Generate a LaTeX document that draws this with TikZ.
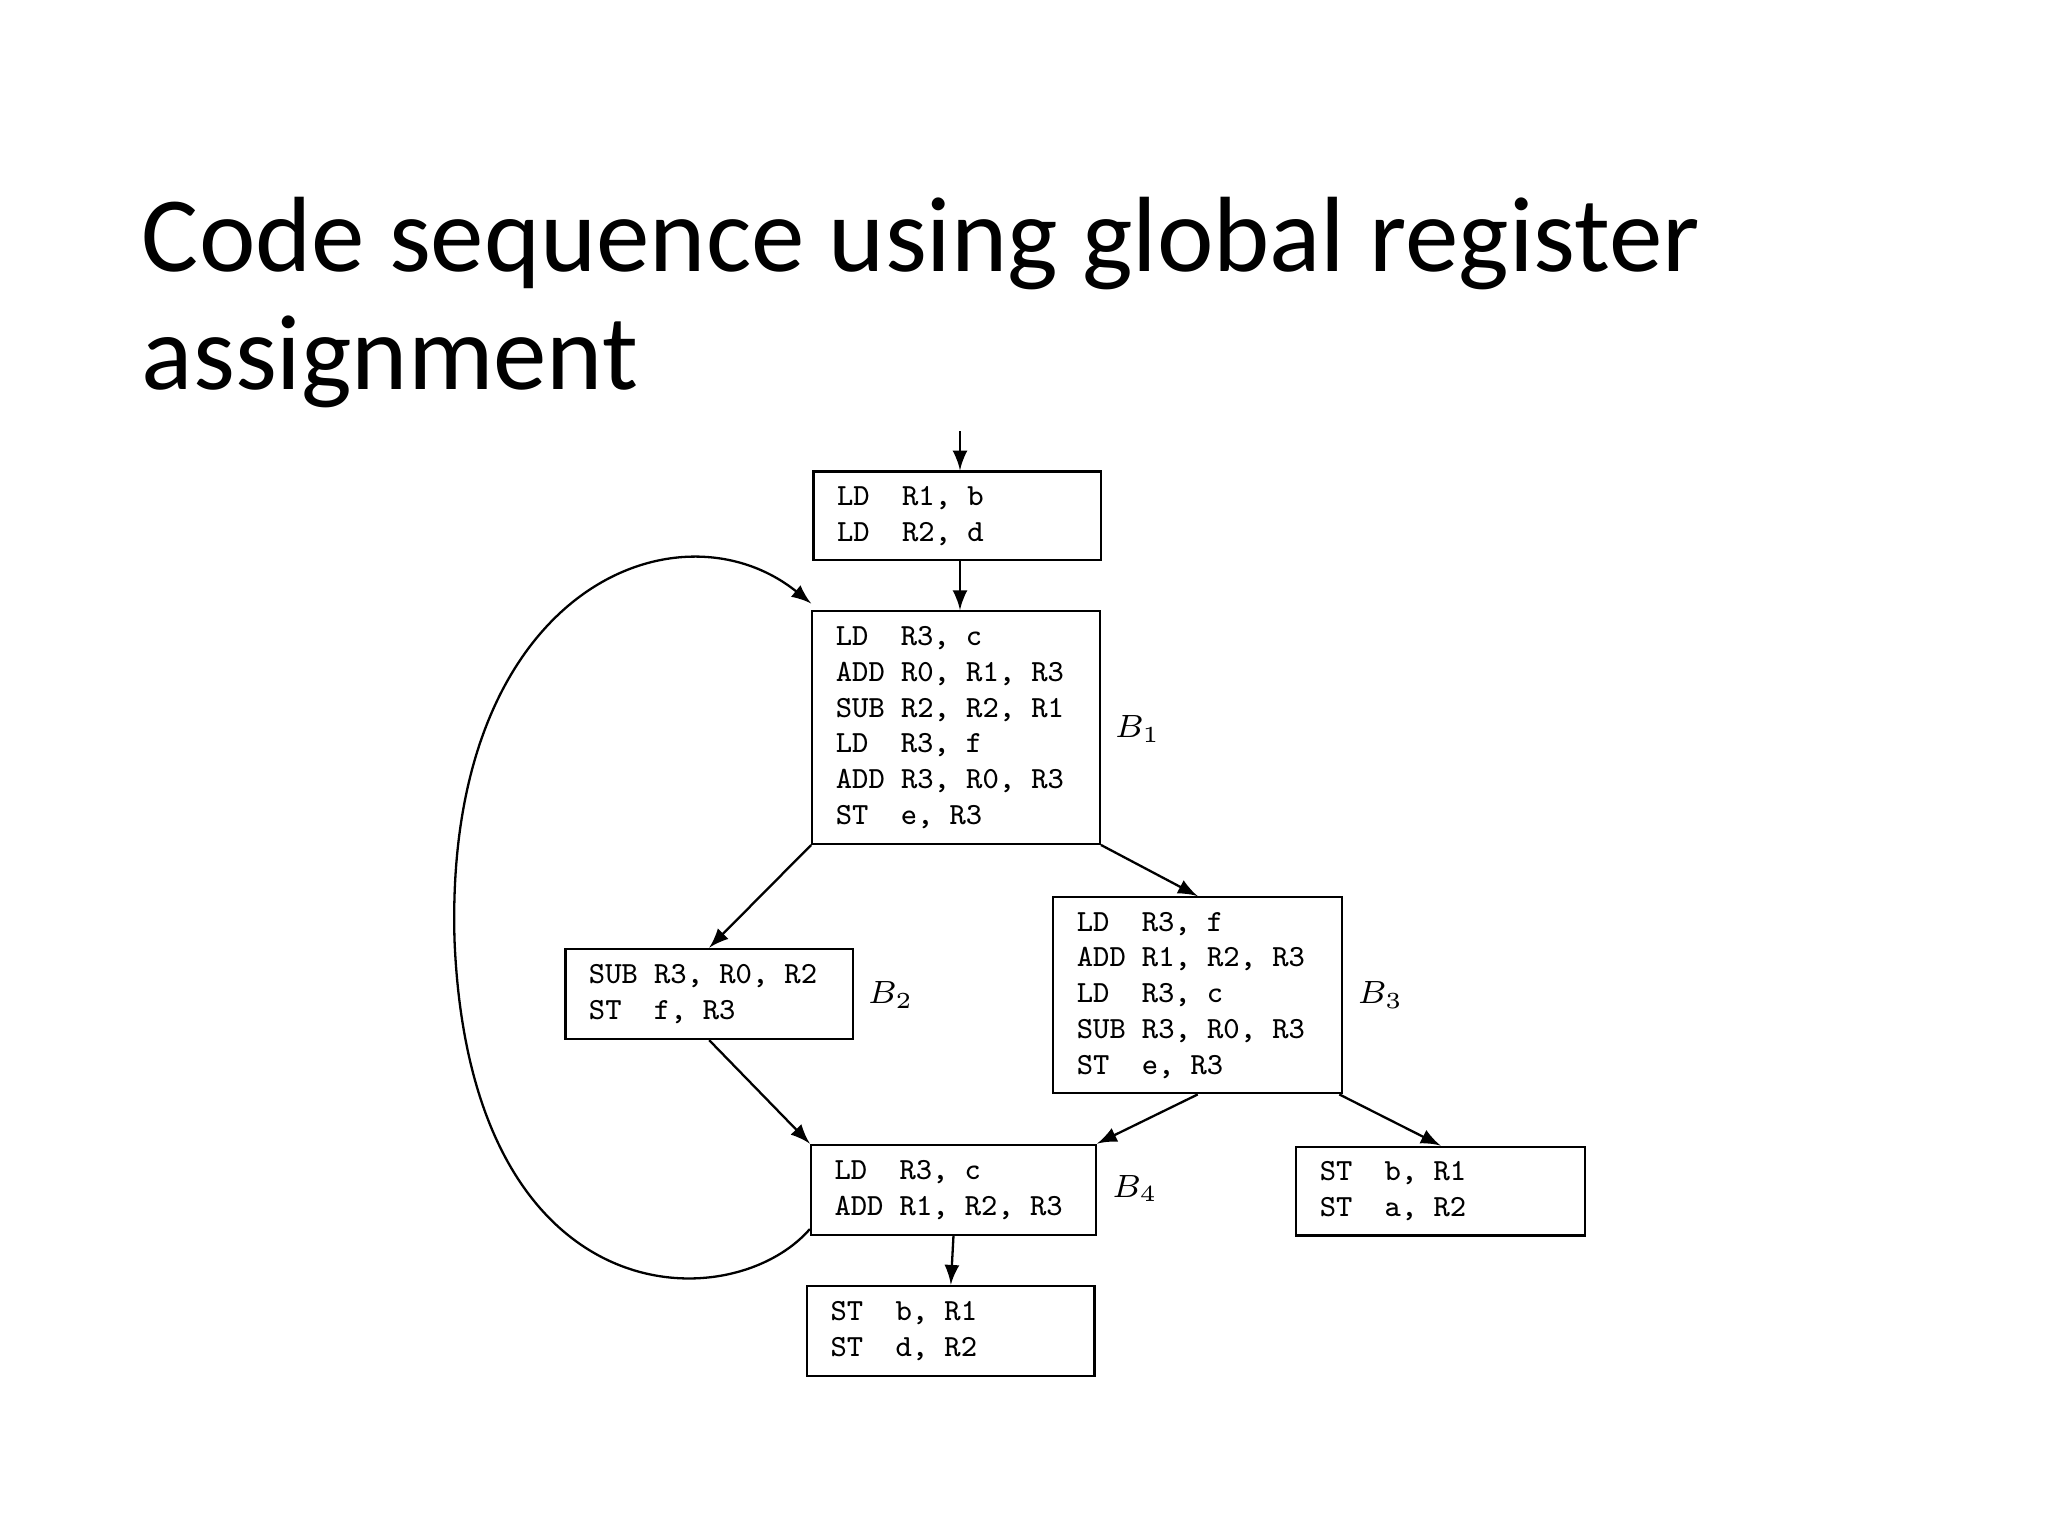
\documentclass[tikz,border=0pt]{standalone}
\usepackage{fontspec}
\setmainfont{Carlito}
\newcommand\ms{\hspace*{0.525em}}
\begin{document}
\begin{tikzpicture}[x=0.01cm,y=-0.01cm,
  cbox/.style={draw,line width=0.5pt,inner xsep=0.18cm,inner ysep=0pt,align=left,
    font=\ttfamily\fontsize{6.7}{7.8}\selectfont},
  blab/.style={font=\fontsize{7}{8}\selectfont},
  arr/.style={-latex,line width=0.5pt}]
\useasboundingbox (0,0) rectangle (1568,1176);
\fill[white] (0,0) rectangle (1568,1176);
\node[anchor=base west,font=\fontsize{23.3}{26}\selectfont,inner sep=0] at (108,208) {Code sequence using global register};
\node[anchor=base west,font=\fontsize{23.3}{26}\selectfont,inner sep=0] at (108,298) {assignment};
\node[cbox,minimum width=2.2cm,minimum height=0.68cm,text width=1.84cm] (e) at (733,395) {LD\ms\ms R1,\ms b\\LD\ms\ms R2,\ms d};
\node[cbox,minimum width=2.2cm,minimum height=1.78cm,text width=1.84cm] (b1) at (732,557) {LD\ms\ms R3,\ms c\\ADD\ms R0,\ms R1,\ms R3\\SUB\ms R2,\ms R2,\ms R1\\LD\ms\ms R3,\ms f\\ADD\ms R3,\ms R0,\ms R3\\ST\ms\ms e,\ms R3};
\node[cbox,minimum width=2.2cm,minimum height=0.69cm,text width=1.84cm] (b2) at (543,761) {SUB\ms R3,\ms R0,\ms R2\\ST\ms\ms f,\ms R3};
\node[cbox,minimum width=2.21cm,minimum height=1.5cm,text width=1.85cm] (b3) at (917,762) {LD\ms\ms R3,\ms f\\ADD\ms R1,\ms R2,\ms R3\\LD\ms\ms R3,\ms c\\SUB\ms R3,\ms R0,\ms R3\\ST\ms\ms e,\ms R3};
\node[cbox,minimum width=2.18cm,minimum height=0.69cm,text width=1.82cm] (b4) at (730,911) {LD\ms\ms R3,\ms c\\ADD\ms R1,\ms R2,\ms R3};
\node[cbox,minimum width=2.2cm,minimum height=0.69cm,text width=1.84cm] (x1) at (728,1019) {ST\ms\ms b,\ms R1\\ST\ms\ms d,\ms R2};
\node[cbox,minimum width=2.21cm,minimum height=0.68cm,text width=1.85cm] (x2) at (1103,912) {ST\ms\ms b,\ms R1\\ST\ms\ms a,\ms R2};
\node[blab] (l1) at (871,558) {$B_1$};
\node[blab] (l2) at (682,762) {$B_2$};
\node[blab] (l3) at (1057,762) {$B_3$};
\node[blab] (l4) at (869,910) {$B_4$};
\coordinate (top) at (735,330);
\draw[arr] (top) -- (e.north -| top);
\draw[arr] (e.south -| top) -- (b1.north -| top);
\draw[arr] (b1.south west) -- (b2.north);
\draw[arr] (b1.south east) -- (b3.north);
\draw[arr] (b2.south) -- (b4.north west);
\draw[arr] (b3.south) -- (b4.north east);
\draw[arr] ([xshift=-0.03cm]b3.south east) -- (x2.north);
\draw[arr] (b4.south) -- (x1.north);
\draw[arr] ([yshift=-0.3cm]b4.west) .. controls (560,1010) and (360,1010) .. (348,720)
  .. controls (340,450) and (520,380) .. ([yshift=0.05cm]b1.north west);
\end{tikzpicture}
\end{document}
